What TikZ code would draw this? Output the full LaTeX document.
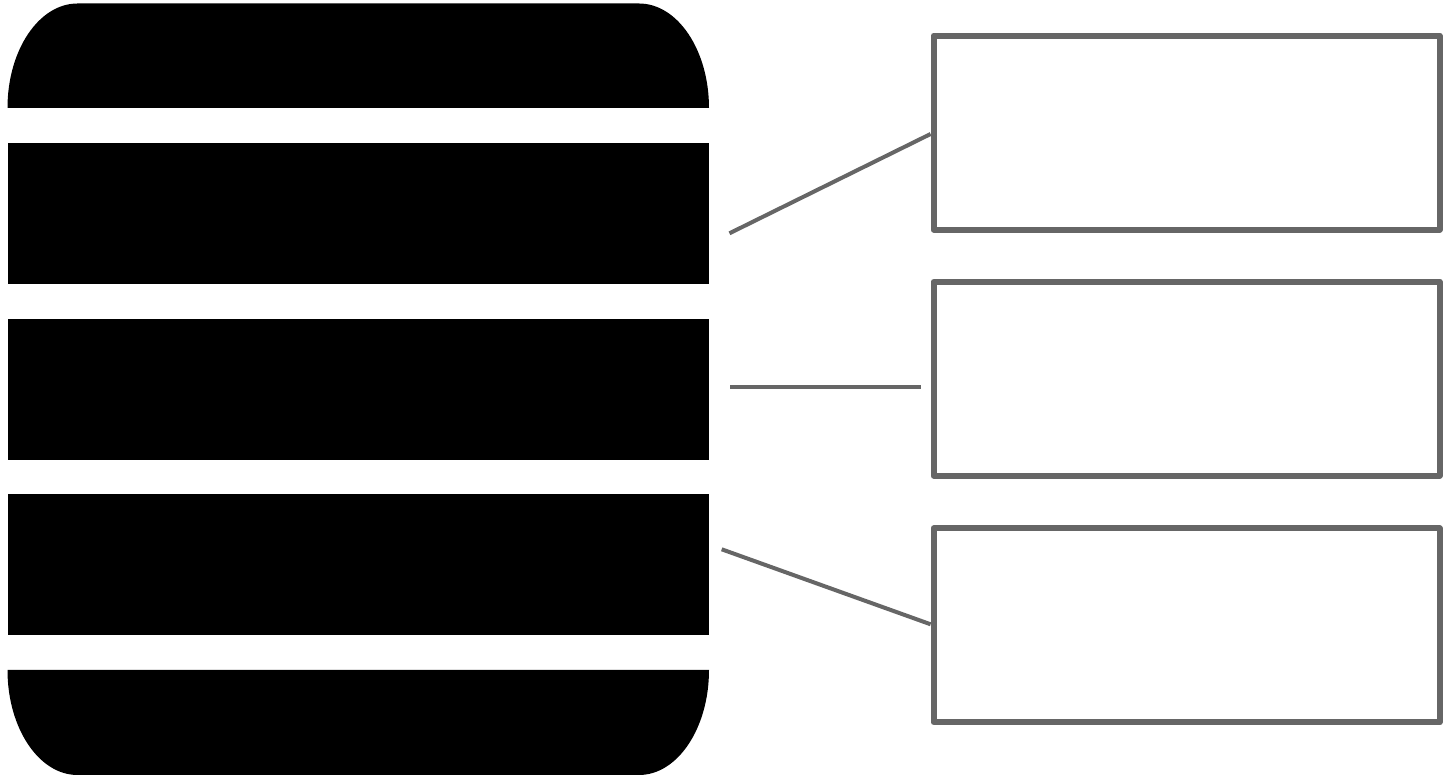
\documentclass[tikz,border=0pt]{standalone}
\usepackage{tikz}

\definecolor{calloutgray}{HTML}{666666}
\tikzset{
  band/.style={fill=black, draw=none, inner sep=0pt, minimum width=701.5pt, minimum height=140.5pt},
  endband/.style={fill=black, draw=none},
  callout/.style={draw=calloutgray, line width=6pt, line join=round, fill=white, inner sep=0pt, minimum width=506pt, minimum height=194pt},
  leader/.style={draw=calloutgray, line width=4pt}
}

\begin{document}
\begin{tikzpicture}[x=1pt, y=1pt]
\useasboundingbox (0,0) rectangle (1449,778);

\fill[endband] (7.5,670) arc[start angle=180, end angle=90, x radius=70, y radius=104.5] -- (639,774.5) arc[start angle=90, end angle=0, x radius=70, y radius=104.5] -- cycle;
\node[band] (bandA) at (358.25,564.25) {};
\node[band] (bandB) at (358.25,388.5) {};
\node[band] (bandC) at (358.25,213.25) {};
\fill[endband] (7.5,108) arc[start angle=180, end angle=270, x radius=70, y radius=105] -- (639,3) arc[start angle=270, end angle=360, x radius=70, y radius=105] -- cycle;

\node[callout] (boxA) at (1186.6,645.4) {};
\node[callout] (boxB) at (1186.6,399.3) {};
\node[callout] (boxC) at (1186.6,152.7) {};

\coordinate (startA) at (729.5,544.7);
\coordinate (startB) at (730,391);
\coordinate (endB) at (921,391);
\coordinate (startC) at (721.7,228.7);

\draw[leader] (startA) -- ([yshift=-1.4pt]boxA.west);
\draw[leader] (startB) -- (endB);
\draw[leader] (startC) -- ([yshift=1pt]boxC.west);
\end{tikzpicture}
\end{document}
